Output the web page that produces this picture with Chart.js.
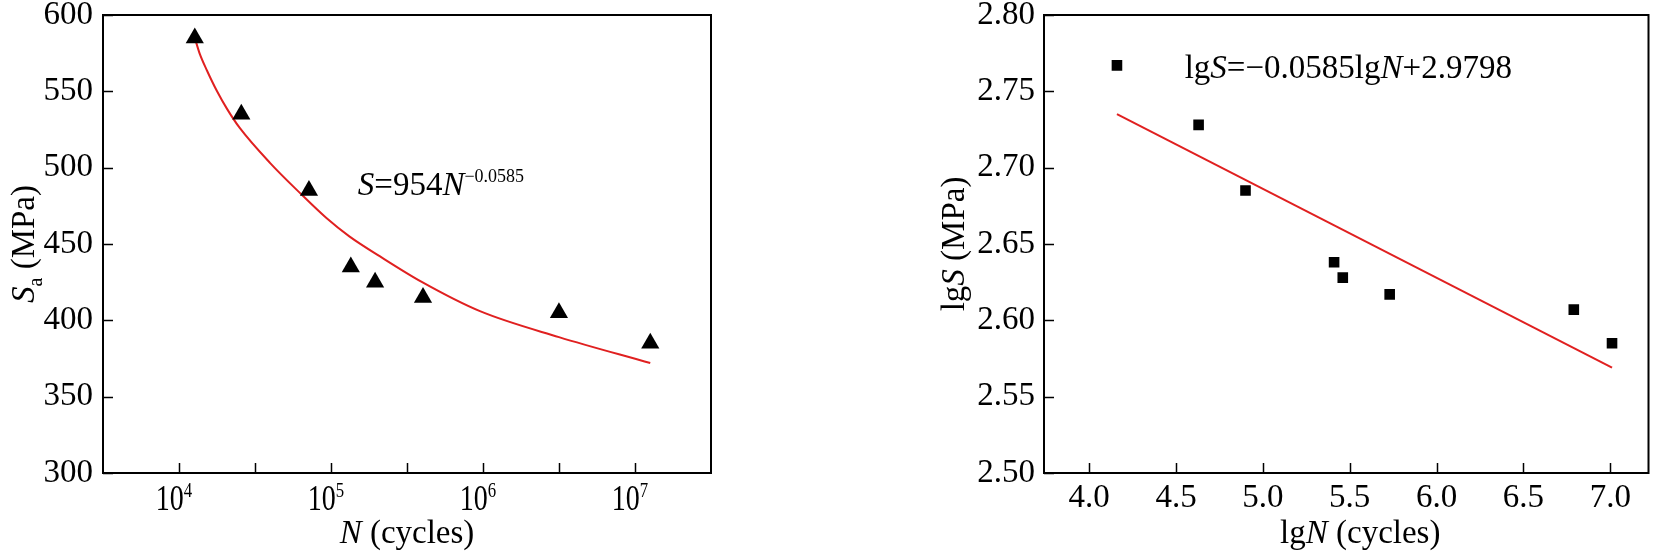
<!DOCTYPE html>
<html>
<head>
<meta charset="utf-8">
<script src="https://cdn.jsdelivr.net/npm/chart.js@4.4.1/dist/chart.umd.min.js"></script>
<style>
    body { margin: 0; background: #fff; }
    #wrap { position: relative; width: 1656px; height: 551px; }
    .box { position: absolute; top: 0; height: 551px; }
</style>
</head>
<body>
<div id="wrap">
    <div class="box" style="left:0;width:830px"><canvas id="snChart"></canvas></div>
    <div class="box" style="left:930px;width:726px"><canvas id="lgChart"></canvas></div>
</div>
<script>
// left panel: test points, N in cycles, S in MPa
const cyclesN = [12700, 25700, 71600, 135000, 195000, 403000, 3160000, 12600000];
const stressS = [585, 535, 485, 435, 425, 415, 405, 385];
// fitted curve
const curveN = [12700, 13700, 15300, 17800, 20700, 25100, 39800, 63100, 93300, 132000, 209000, 398000, 955000, 3160000, 12600000];
const curveS = [585, 574.5, 563.5, 550, 538.5, 526, 503, 483, 467, 455, 442, 425, 406, 389, 372];
const decades = [4, 5, 6, 7];
const stressTicks = [300, 350, 400, 450, 500, 550, 600];

// right panel: same data in log form
const lgN = [4.16, 4.63, 4.90, 5.41, 5.46, 5.73, 6.79, 7.01];
const lgS = [2.767, 2.728, 2.685, 2.638, 2.628, 2.617, 2.607, 2.585];
const fitLgN = [4.16, 7.01];
const fitLgS = [2.735, 2.569];
const lgNTicks = [4.0, 4.5, 5.0, 5.5, 6.0, 6.5, 7.0];
const lgSTicks = [2.50, 2.55, 2.60, 2.65, 2.70, 2.75, 2.80];

const serif = '"Liberation Serif", "Times New Roman", serif';
const red = '#e02020';

function fontOf(p) {
    return (p.i ? 'italic ' : '') + (p.s || 33) + 'px ' + serif;
}

function drawRich(ctx, parts, x, y, align, sx) {
    sx = sx || 1;
    let w = 0;
    parts.forEach(p => { ctx.font = fontOf(p); w += ctx.measureText(p.t).width; });
    ctx.save();
    ctx.translate(align === 'center' ? x - w * sx / 2 : x, y);
    ctx.scale(sx, 1);
    ctx.textAlign = 'left';
    ctx.textBaseline = 'alphabetic';
    let cx = 0;
    parts.forEach(p => {
        ctx.font = fontOf(p);
        ctx.fillText(p.t, cx, p.dy || 0);
        cx += ctx.measureText(p.t).width;
    });
    ctx.restore();
}

// box, inward ticks, axis titles and the equation
const framePlugin = {
    id: 'frame',
    afterDraw(chart, args, opts) {
        const ctx = chart.ctx;
        const a = chart.chartArea;
        const xs = chart.scales.x, ys = chart.scales.y;
        ctx.save();
        ctx.strokeStyle = '#000';
        ctx.fillStyle = '#000';
        ctx.lineWidth = 2;
        ctx.strokeRect(a.left, a.top, a.right - a.left, a.bottom - a.top);
        ctx.lineWidth = 1.5;
        ctx.beginPath();
        xs.ticks.forEach(t => {
            const px = Math.round(xs.getPixelForValue(t.value)) + 0.5;
            ctx.moveTo(px, a.bottom);
            ctx.lineTo(px, a.bottom - 10);
        });
        ys.ticks.forEach(t => {
            const py = Math.round(ys.getPixelForValue(t.value)) + 0.5;
            ctx.moveTo(a.left, py);
            ctx.lineTo(a.left + 10, py);
        });
        ctx.stroke();

        if (opts.decadeLabels) {
            decades.forEach(e => {
                const px = xs.getPixelForValue(Math.pow(10, e));
                drawRich(ctx, [{ t: '10', s: 35 }, { t: String(e), s: 21, dy: -13 }], px - 5, a.bottom + 37, 'center', 0.8);
            });
        }

        // x title
        drawRich(ctx, opts.xTitle, (a.left + a.right) / 2 + (opts.xTitleShift || 0), a.bottom + 70, 'center');

        // y title, rotated
        ctx.save();
        ctx.translate(a.left - opts.yTitleGap, (a.top + a.bottom) / 2);
        ctx.rotate(-Math.PI / 2);
        drawRich(ctx, opts.yTitle, 0, 11, 'center');
        ctx.restore();

        // equation
        const eq = opts.equation;
        drawRich(ctx, eq.parts, xs.getPixelForValue(eq.x), ys.getPixelForValue(eq.y), 'left');
        ctx.restore();
    }
};

function pts(xv, yv) {
    return xv.map((v, i) => ({ x: v, y: yv[i] }));
}

// left: S-N curve on log axis
new Chart(document.getElementById('snChart'), {
    type: 'scatter',
    data: {
        datasets: [{
            data: pts(cyclesN, stressS),
            pointStyle: 'triangle',
            pointRadius: 10.5,
            backgroundColor: '#000',
            borderColor: '#000',
            borderWidth: 0
        }, {
            data: pts(curveN, curveS),
            showLine: true,
            borderColor: red,
            borderWidth: 2,
            pointRadius: 0,
            cubicInterpolationMode: 'monotone'
        }]
    },
    options: {
        responsive: true,
        maintainAspectRatio: false,
        animation: false,
        layout: { padding: { top: 15, right: 119, left: 0, bottom: 0 } },
        plugins: {
            legend: { display: false },
            tooltip: { enabled: false },
            frame: {
                decadeLabels: true,
                xTitle: [{ t: 'N', i: true }, { t: ' (cycles)' }],
                yTitle: [{ t: 'S', i: true }, { t: 'a', s: 20, dy: 8 }, { t: ' (MPa)' }],
                yTitleGap: 80,
                equation: {
                    x: 150000, y: 482,
                    parts: [{ t: 'S', i: true }, { t: '=954' }, { t: 'N', i: true }, { t: '\u22120.0585', s: 18, dy: -13 }]
                }
            }
        },
        scales: {
            x: {
                type: 'logarithmic',
                min: Math.pow(10, 3.5),
                max: Math.pow(10, 7.5),
                grid: { display: false, drawTicks: false },
                border: { display: false },
                ticks: { display: false },
                afterBuildTicks: s => {
                    const t = [];
                    decades.forEach((e, i) => {
                        t.push({ value: Math.pow(10, e) });
                        if (i < decades.length - 1) t.push({ value: Math.pow(10, e + 0.5) });
                    });
                    s.ticks = t;
                },
                afterFit: s => { s.height = 78; s.paddingLeft = 0; s.paddingRight = 0; }
            },
            y: {
                min: 300,
                max: 600,
                grid: { display: false, drawTicks: false },
                border: { display: false },
                ticks: { color: '#000', font: { family: serif, size: 33 }, padding: 10 },
                afterBuildTicks: s => { s.ticks = stressTicks.map(v => ({ value: v })); },
                afterFit: s => { s.width = 103; s.paddingTop = 0; s.paddingBottom = 0; }
            }
        }
    },
    plugins: [framePlugin]
});

// right: linear fit in log-log form
new Chart(document.getElementById('lgChart'), {
    type: 'scatter',
    data: {
        datasets: [{
            data: pts(lgN, lgS),
            pointStyle: 'rect',
            pointRadius: 7.5,
            backgroundColor: '#000',
            borderColor: '#000',
            borderWidth: 0
        }, {
            data: pts(fitLgN, fitLgS),
            showLine: true,
            borderColor: red,
            borderWidth: 2,
            pointRadius: 0
        }]
    },
    options: {
        responsive: true,
        maintainAspectRatio: false,
        animation: false,
        layout: { padding: { top: 15, right: 5, left: 0, bottom: 0 } },
        plugins: {
            legend: { display: false },
            tooltip: { enabled: false },
            frame: {
                xTitle: [{ t: 'lg' }, { t: 'N', i: true }, { t: ' (cycles)' }],
                xTitleShift: 14,
                yTitle: [{ t: 'lg' }, { t: 'S', i: true }, { t: ' (MPa)' }],
                yTitleGap: 91,
                equation: {
                    x: 4.55, y: 2.759,
                    parts: [{ t: 'lg' }, { t: 'S', i: true }, { t: '=\u22120.0585lg' }, { t: 'N', i: true }, { t: '+2.9798' }]
                }
            }
        },
        scales: {
            x: {
                type: 'linear',
                min: 3.74,
                max: 7.22,
                grid: { display: false, drawTicks: false },
                border: { display: false },
                ticks: { color: '#000', font: { family: serif, size: 33 }, padding: 6, maxRotation: 0,
                    callback: v => v.toFixed(1) },
                afterBuildTicks: s => { s.ticks = lgNTicks.map(v => ({ value: v })); },
                afterFit: s => { s.height = 78; s.paddingLeft = 0; s.paddingRight = 0; }
            },
            y: {
                min: 2.5,
                max: 2.8,
                grid: { display: false, drawTicks: false },
                border: { display: false },
                ticks: { color: '#000', font: { family: serif, size: 33 }, padding: 9,
                    callback: v => v.toFixed(2) },
                afterBuildTicks: s => { s.ticks = lgSTicks.map(v => ({ value: v })); },
                afterFit: s => { s.width = 114; s.paddingTop = 0; s.paddingBottom = 0; }
            }
        }
    },
    plugins: [framePlugin]
});
</script>
</body>
</html>
